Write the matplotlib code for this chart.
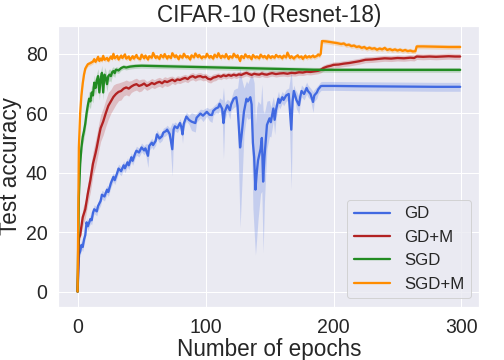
import numpy as np
import matplotlib
matplotlib.use("Agg")
import matplotlib.pyplot as plt
import seaborn as sns

sns.set_theme(style="darkgrid")
plt.rcParams['font.family'] = ['Liberation Sans', 'DejaVu Sans']

# GD (full batch)
gd_x = [0, 1, 2, 3, 4, 5, 6, 7, 8, 10, 11, 12, 13, 15, 16, 18, 19, 21, 23, 24,
        26, 28, 29, 31, 32, 34, 36, 37, 39, 40, 42, 43, 45, 46, 48, 50, 52, 53, 55, 56,
        58, 59, 61, 62, 64, 66, 67, 69, 70, 72, 74, 75, 76, 78, 80, 81, 82, 83, 85, 87,
        89, 92, 93, 96, 98, 101, 103, 105, 106, 108, 110, 111, 113, 114, 115, 117, 119, 120, 122, 124,
        125, 127, 128, 130, 132, 133, 135, 136, 137, 138, 139, 140, 141, 143, 144, 145, 146, 148, 150, 151,
        153, 154, 155, 157, 158, 160, 161, 163, 165, 167, 168, 169, 170, 171, 173, 174, 175, 177, 179, 180,
        182, 184, 185, 187, 188, 190, 191, 200, 220, 250, 280, 299]
gd_y = [0, 12.4, 13.5, 15.7, 15.0, 17.5, 19.0, 23.3, 22.0, 24.4, 24.0, 26.5, 27.7, 27.0, 28.8, 30.5, 32.6, 32.0, 34.3, 33.5,
        36.5, 38.6, 37.5, 40.0, 41.4, 40.5, 42.5, 41.5, 43.5, 42.5, 45.2, 44.0, 46.5, 47.4, 46.8, 48.5, 47.5, 48.2, 45.7, 49.0,
        50.1, 49.3, 50.7, 52.9, 51.5, 52.3, 53.5, 54.0, 54.5, 53.0, 47.9, 54.5, 55.6, 55.0, 56.7, 55.5, 52.9, 56.5, 58.9, 57.8,
        57.2, 56.7, 58.5, 59.9, 59.2, 60.5, 59.5, 59.4, 60.8, 61.6, 62.0, 63.2, 61.5, 56.7, 60.5, 62.7, 61.0, 63.0, 64.9, 65.4,
        62.5, 48.5, 52.0, 60.5, 64.9, 64.0, 65.4, 63.0, 50.1, 45.2, 34.3, 40.0, 44.1, 48.0, 51.7, 37.0, 45.0, 56.1, 58.3, 57.0,
        61.6, 57.8, 61.0, 64.9, 63.5, 65.4, 64.5, 66.0, 66.5, 54.5, 64.0, 67.5, 66.0, 64.5, 62.7, 65.5, 67.5, 66.5, 68.5, 67.5,
        66.5, 63.8, 66.0, 67.0, 68.0, 69.1, 69.2, 69.2, 69.1, 69.0, 68.9, 68.9]
gd_sd = [0, 1.5, 1.5, 1.5, 1.5, 1.5, 1.5, 1.5, 1.5, 1.5, 1.5, 1.5, 1.5, 1.5, 1.5, 1.5, 1.5, 1.5, 1.5, 1.5,
         1.5, 1.5, 1.5, 1.5, 1.5, 1.5, 1.5, 1.5, 1.5, 1.5, 1.5, 1.5, 1.5, 1.5, 1.5, 1.5, 1.5, 1.5, 4.0, 1.5,
         1.5, 1.5, 1.5, 1.5, 1.5, 1.5, 1.5, 1.5, 1.5, 2.0, 9.0, 2.0, 1.5, 1.5, 1.5, 1.5, 3.0, 1.5, 1.5, 1.5,
         3.0, 3.0, 1.5, 1.5, 2.0, 1.5, 2.0, 2.5, 1.5, 1.5, 2.0, 2.0, 3.0, 12.0, 3.0, 2.0, 3.0, 2.0, 3.0, 3.0,
         6.0, 27.0, 20.0, 8.0, 6.0, 6.0, 7.0, 10.0, 22.0, 25.0, 22.0, 22.0, 20.0, 15.0, 18.0, 24.0, 15.0, 8.0, 6.0, 5.0,
         4.0, 5.0, 3.0, 2.5, 2.0, 2.0, 2.0, 2.0, 2.0, 20.0, 3.0, 2.0, 2.0, 3.0, 3.0, 2.0, 2.0, 2.0, 2.0, 2.0,
         2.0, 3.5, 2.0, 2.0, 1.5, 1.5, 1.5, 1.5, 1.5, 1.5, 1.5, 1.5]

# GD + momentum
gdm_x = [0, 1, 2, 3, 4, 6, 8, 10, 12, 14, 15, 17, 18, 20, 22, 24, 26, 28, 30, 32,
         34, 36, 38, 40, 42, 44, 46, 48, 50, 52, 54, 56, 58, 60, 62, 64, 66, 68, 70, 72,
         74, 76, 78, 80, 82, 84, 86, 88, 90, 92, 94, 96, 98, 100, 102, 104, 106, 108, 110, 112,
         114, 116, 118, 120, 122, 124, 126, 128, 130, 132, 134, 136, 138, 140, 142, 144, 146, 148, 150, 152,
         155, 158, 161, 164, 167, 170, 173, 176, 179, 182, 185, 188, 190, 192, 195, 198, 200, 204, 208, 212,
         216, 220, 225, 230, 235, 240, 245, 250, 255, 260, 263, 265, 270, 275, 280, 285, 290, 295, 299]
gdm_y = [0, 17.9, 19.0, 22.0, 25.0, 27.7, 33.0, 37.5, 43.0, 46.5, 48.5, 53.0, 55.0, 57.2, 60.0, 62.5, 64.0, 65.5, 66.5, 67.2,
         67.5, 68.3, 68.7, 68.3, 69.0, 69.5, 69.8, 69.2, 69.5, 70.0, 69.2, 69.6, 70.2, 69.8, 70.3, 70.6, 70.1, 70.8, 70.5, 70.9,
         71.3, 70.8, 71.4, 71.2, 71.6, 71.9, 71.5, 72.2, 72.5, 72.0, 72.4, 72.5, 72.1, 72.3, 71.6, 71.4, 72.0, 72.2, 72.6, 72.3,
         72.8, 72.5, 72.9, 72.6, 73.0, 72.7, 73.1, 72.9, 73.3, 73.6, 73.2, 72.9, 73.3, 73.1, 73.0, 73.4, 73.1, 73.0, 73.3, 73.5,
         73.2, 73.4, 73.5, 73.3, 73.6, 73.5, 73.8, 73.7, 74.0, 73.9, 74.1, 74.3, 74.6, 75.2, 75.7, 76.0, 76.3, 76.4, 76.7, 76.9,
         77.2, 77.5, 78.0, 78.1, 78.3, 78.5, 78.4, 78.6, 78.5, 78.7, 78.6, 79.1, 79.0, 79.1, 79.0, 79.1, 79.2, 79.1, 79.1]
gdm_sd = [0, 1.0, 1.5, 2.0, 3.0, 3.0, 3.5, 4.0, 4.0, 4.5, 4.5, 4.5, 4.5, 4.5, 4.5, 4.5, 4.0, 4.0, 3.5, 3.0,
          3.0, 2.5, 2.5, 2.5, 2.0, 2.0, 2.0, 2.0, 2.0, 1.5, 1.5, 1.5, 1.5, 1.5, 1.5, 1.5, 1.5, 1.5, 1.5, 1.5,
          1.2, 1.2, 1.2, 1.2, 1.2, 1.2, 1.2, 1.2, 1.2, 1.2, 1.2, 1.2, 1.2, 1.2, 1.2, 1.2, 1.2, 1.2, 1.0, 1.0,
          1.0, 1.0, 1.0, 1.0, 1.0, 1.0, 1.0, 1.0, 1.0, 1.0, 1.0, 1.0, 1.0, 1.0, 1.0, 1.0, 1.0, 1.0, 1.0, 1.0,
          1.0, 1.0, 1.0, 1.0, 1.0, 1.0, 1.0, 1.0, 1.0, 1.0, 1.0, 1.0, 1.0, 1.0, 1.0, 1.0, 1.0, 1.0, 1.0, 1.0,
          1.0, 1.0, 1.0, 1.0, 1.0, 1.0, 1.0, 1.0, 1.0, 1.0, 1.0, 1.0, 1.0, 1.0, 1.0, 1.0, 1.0, 1.0, 1.0]

# SGD
sgd_x = [0, 1, 2, 3, 4, 5, 6, 7, 8, 9, 10, 11, 12, 13, 14, 15, 16, 17, 18, 19,
         20, 21, 22, 23, 24, 25, 26, 27, 28, 29, 30, 32, 34, 36, 38, 41, 45, 50, 60, 80,
         100, 120, 140, 160, 180, 190, 200, 250, 299]
sgd_y = [0, 32.0, 43.0, 48.5, 52.0, 54.0, 56.5, 60.0, 62.7, 64.9, 64.0, 67.0, 66.0, 70.3, 68.5, 71.0, 72.5, 67.0, 71.5, 73.6,
         67.0, 73.0, 72.0, 69.8, 72.5, 73.0, 72.5, 73.8, 74.2, 73.5, 74.7, 74.4, 75.2, 75.6, 75.4, 75.7, 75.9, 76.0, 75.9, 75.7,
         75.5, 75.3, 75.1, 74.9, 74.7, 74.6, 74.6, 74.6, 74.6]
sgd_sd = [0, 2.0, 2.5, 2.5, 2.5, 2.5, 2.5, 2.5, 2.5, 2.5, 2.5, 2.5, 2.5, 2.5, 2.5, 2.5, 2.5, 2.5, 2.5, 2.5,
          2.5, 2.5, 2.5, 2.5, 2.0, 2.0, 2.0, 1.5, 1.5, 1.5, 1.0, 1.0, 0.8, 0.8, 0.8, 0.8, 0.8, 0.8, 0.8, 0.8,
          0.8, 0.8, 0.8, 0.8, 0.8, 0.8, 0.8, 0.8, 0.8]

# SGD + momentum
sgdm_x = [0, 1, 2, 3, 4, 5, 6, 7, 8, 10, 12, 13, 14, 15, 16, 17, 18, 19, 20, 21,
          23, 24, 26, 27, 28, 29, 31, 32, 34, 35, 37, 38, 40, 41, 43, 44, 46, 47, 49, 50,
          52, 53, 55, 56, 58, 59, 61, 62, 64, 65, 67, 68, 70, 71, 73, 74, 76, 77, 79, 80,
          82, 83, 85, 86, 88, 89, 91, 92, 94, 95, 97, 98, 100, 101, 103, 104, 106, 107, 109, 110,
          112, 113, 115, 116, 118, 119, 121, 122, 124, 125, 127, 128, 130, 131, 133, 134, 136, 137, 139, 140,
          142, 143, 145, 146, 148, 149, 151, 152, 154, 155, 157, 158, 160, 161, 163, 164, 166, 167, 169, 170,
          172, 173, 175, 176, 178, 179, 181, 182, 184, 185, 187, 188, 189, 190, 191, 194, 197, 200, 203, 206,
          208, 210, 212, 214, 216, 218, 220, 222, 224, 226, 228, 230, 232, 234, 236, 238, 240, 242, 244, 246,
          248, 250, 252, 254, 256, 258, 260, 262, 264, 265, 270, 280, 290, 299]
sgdm_y = [0, 48.5, 60.0, 66.0, 70.0, 73.0, 75.0, 75.8, 76.5, 76.9, 77.4, 78.2, 77.3, 78.0, 79.0, 77.6, 78.4, 77.8, 79.3, 78.0,
          78.6, 77.7, 79.1, 78.3, 80.0, 78.5, 79.3, 78.1, 79.4, 78.6, 79.8, 78.4, 79.1, 78.0, 79.2, 78.4, 79.6, 78.6, 78.2, 79.7,
          78.5, 79.4, 78.1, 79.2, 78.7, 80.3, 78.6, 79.2, 78.3, 79.6, 78.8, 79.9, 78.4, 79.3, 78.6, 80.2, 78.9, 79.5, 78.2, 79.4,
          78.7, 80.0, 78.8, 79.2, 78.1, 79.5, 78.8, 80.1, 78.9, 79.6, 78.5, 79.1, 78.8, 80.0, 78.7, 79.3, 78.4, 79.7, 78.9, 80.2,
          78.6, 79.4, 78.8, 79.9, 78.3, 79.2, 78.7, 80.0, 78.9, 79.5, 77.6, 79.3, 78.6, 79.8, 78.8, 79.3, 78.2, 79.6, 78.7, 79.1,
          78.5, 79.7, 78.8, 79.3, 78.4, 79.5, 78.6, 79.2, 78.7, 79.6, 78.9, 79.3, 78.5, 79.4, 78.8, 80.4, 78.6, 79.2, 78.4, 78.9,
          79.5, 78.8, 79.1, 78.3, 79.4, 78.7, 79.2, 78.8, 79.4, 78.9, 79.3, 79.8, 79.4, 80.0, 84.3, 84.2, 84.0, 83.8, 83.6, 83.3,
          83.5, 82.9, 83.1, 82.6, 82.8, 82.3, 82.5, 82.0, 82.3, 81.7, 82.1, 81.7, 81.9, 81.4, 81.8, 81.5, 82.0, 81.3, 81.6, 81.2,
          81.5, 81.1, 81.4, 81.0, 81.3, 80.9, 81.1, 80.8, 80.9, 82.5, 82.5, 82.4, 82.3, 82.3]
sgdm_sd = 0.8

series = [
    ("GD", gd_x, gd_y, gd_sd, "royalblue"),
    ("GD+M", gdm_x, gdm_y, gdm_sd, "firebrick"),
    ("SGD", sgd_x, sgd_y, sgd_sd, "forestgreen"),
    ("SGD+M", sgdm_x, sgdm_y, sgdm_sd, "darkorange"),
]

fig = plt.figure(figsize=(7, 5), dpi=72)
ax = fig.add_axes([0.116, 0.148, 0.835, 0.78])

for name, x, y, sd, color in series:
    x = np.array(x)
    y = np.array(y)
    sd = np.array(sd) if np.ndim(sd) else np.full(len(y), sd)
    ax.fill_between(x, y - sd, y + sd, color=color, alpha=0.22, linewidth=0)
    ax.plot(x, y, color=color, linewidth=2.3, label=name)

ax.set_title("CIFAR-10 (Resnet-18)", fontsize=22.5, pad=4)
ax.set_xlabel("Number of epochs", fontsize=22.5, labelpad=1)
ax.set_ylabel("Test accuracy", fontsize=22.5, labelpad=4)
ax.tick_params(axis='both', labelsize=19.5, pad=5)
ax.set_xticks([0, 100, 200, 300])
ax.set_yticks([0, 20, 40, 60, 80])
ax.legend(loc="lower right", fontsize=16.8, handlelength=2.2)

plt.savefig("out.png", dpi=72)
